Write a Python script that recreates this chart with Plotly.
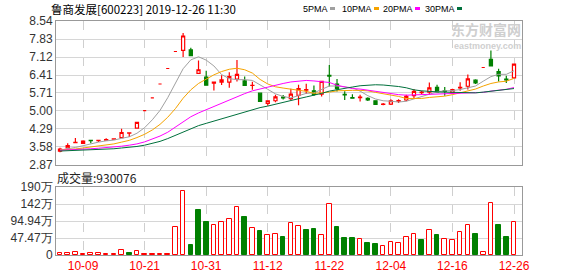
import plotly.graph_objects as go

# ---------------- data ----------------
dates = ["09-27", "09-30", "10-08", "10-09", "10-10", "10-11", "10-14", "10-15", "10-16", "10-17",
         "10-18", "10-21", "10-22", "10-23", "10-24", "10-25", "10-28", "10-29", "10-30", "10-31",
         "11-01", "11-04", "11-05", "11-06", "11-07", "11-08", "11-11", "11-12", "11-13", "11-14",
         "11-15", "11-18", "11-19", "11-20", "11-21", "11-22", "11-25", "11-26", "11-27", "11-28",
         "11-29", "12-02", "12-03", "12-04", "12-05", "12-06", "12-09", "12-10", "12-11", "12-12",
         "12-13", "12-16", "12-17", "12-18", "12-19", "12-20", "12-23", "12-24", "12-25", "12-26"]

open_ = [3.42, 3.54, 3.75, 3.72, 3.84, 3.83, 3.85, 3.89, 3.95, 4.12,
         4.32, 5.01, 5.51, 6.06, 6.67, 7.34, 7.38, 7.40, 6.48, 6.33,
         6.09, 6.13, 6.13, 6.25, 6.18, 6.00, 5.70, 5.30, 5.40, 5.54,
         5.48, 5.61, 5.82, 5.79, 5.66, 6.40, 6.06, 5.65, 5.52, 5.52,
         5.49, 5.40, 5.26, 5.27, 5.38, 5.43, 5.60, 5.72, 5.74, 5.93,
         5.79, 5.71, 5.91, 5.97, 6.21, 6.71, 7.03, 6.55, 6.25, 6.30]
high = [3.55, 3.73, 3.93, 3.84, 3.84, 3.85, 3.92, 3.91, 4.30, 4.15,
        4.55, 5.01, 5.51, 6.06, 6.67, 7.34, 8.07, 7.49, 6.98, 6.58,
        6.14, 6.40, 6.52, 7.00, 6.35, 6.15, 5.71, 5.42, 5.64, 5.63,
        5.87, 6.03, 6.07, 6.00, 6.17, 6.81, 6.26, 5.77, 5.66, 5.64,
        5.54, 5.41, 5.31, 5.46, 5.46, 5.64, 5.86, 5.79, 6.12, 6.03,
        5.94, 5.87, 6.13, 6.43, 6.25, 6.71, 7.38, 6.66, 6.38, 6.86]
low = [3.37, 3.53, 3.73, 3.71, 3.73, 3.78, 3.84, 3.88, 3.94, 3.97,
       4.30, 5.01, 5.51, 6.06, 6.67, 7.34, 7.12, 7.16, 6.47, 5.99,
       5.80, 6.02, 5.91, 6.16, 5.98, 5.83, 5.36, 5.20, 5.34, 5.45,
       5.43, 5.22, 5.67, 5.59, 5.57, 5.96, 5.76, 5.43, 5.48, 5.37,
       5.39, 5.25, 5.22, 5.23, 5.31, 5.38, 5.49, 5.66, 5.64, 5.74,
       5.60, 5.70, 5.79, 5.84, 6.06, 6.71, 6.76, 6.16, 6.10, 6.28]
close = [3.50, 3.63, 3.76, 3.81, 3.83, 3.84, 3.87, 3.90, 4.15, 4.14,
         4.55, 5.01, 5.51, 6.06, 6.67, 7.34, 7.95, 7.18, 6.62, 6.01,
         6.13, 6.22, 6.35, 6.44, 6.00, 6.01, 5.37, 5.40, 5.55, 5.51,
         5.66, 5.88, 5.84, 5.65, 6.16, 6.37, 5.88, 5.63, 5.50, 5.54,
         5.43, 5.26, 5.27, 5.40, 5.41, 5.57, 5.77, 5.74, 5.91, 5.75,
         5.77, 5.84, 5.93, 6.26, 6.10, 6.71, 6.77, 6.38, 6.22, 6.84]

ma5 = [3.46, 3.50, 3.56, 3.63, 3.71, 3.77, 3.82, 3.85, 3.92, 3.98,
       4.12, 4.34, 4.65, 5.02, 5.52, 6.07, 6.66, 7.01, 7.13, 7.00,
       6.77, 6.43, 6.27, 6.23, 6.23, 6.20, 6.04, 5.85, 5.67, 5.57,
       5.51, 5.60, 5.69, 5.71, 5.84, 5.98, 5.98, 5.94, 5.91, 5.78,
       5.60, 5.47, 5.40, 5.38, 5.35, 5.38, 5.48, 5.58, 5.68, 5.75,
       5.79, 5.80, 5.84, 5.91, 5.98, 6.17, 6.35, 6.44, 6.44, 6.58]
ma10 = [3.46, 3.47, 3.50, 3.54, 3.58, 3.62, 3.66, 3.70, 3.77, 3.84,
        3.95, 4.08, 4.25, 4.47, 4.75, 5.09, 5.50, 5.83, 6.08, 6.26,
        6.42, 6.55, 6.64, 6.68, 6.62, 6.49, 6.24, 6.06, 5.95, 5.90,
        5.85, 5.82, 5.77, 5.69, 5.71, 5.74, 5.79, 5.81, 5.81, 5.81,
        5.79, 5.73, 5.67, 5.64, 5.57, 5.49, 5.48, 5.49, 5.53, 5.55,
        5.58, 5.64, 5.71, 5.79, 5.86, 5.98, 6.08, 6.14, 6.17, 6.28]
ma20 = [3.45, 3.46, 3.48, 3.50, 3.51, 3.53, 3.55, 3.58, 3.61, 3.65,
        3.70, 3.78, 3.88, 4.01, 4.16, 4.36, 4.58, 4.77, 4.92, 5.05,
        5.18, 5.31, 5.44, 5.57, 5.68, 5.79, 5.87, 5.94, 6.01, 6.08,
        6.14, 6.18, 6.20, 6.18, 6.16, 6.12, 6.01, 5.94, 5.88, 5.86,
        5.82, 5.77, 5.72, 5.67, 5.64, 5.62, 5.63, 5.65, 5.67, 5.68,
        5.69, 5.68, 5.69, 5.72, 5.72, 5.73, 5.78, 5.82, 5.85, 5.92]
ma30 = [3.42, 3.43, 3.44, 3.45, 3.47, 3.48, 3.50, 3.51, 3.54, 3.56,
        3.60, 3.65, 3.72, 3.80, 3.91, 4.04, 4.19, 4.32, 4.42, 4.51,
        4.60, 4.69, 4.79, 4.89, 4.98, 5.06, 5.13, 5.19, 5.27, 5.34,
        5.41, 5.48, 5.55, 5.61, 5.69, 5.78, 5.84, 5.90, 5.94, 5.99,
        6.02, 6.03, 6.02, 6.00, 5.96, 5.91, 5.83, 5.79, 5.76, 5.75,
        5.74, 5.73, 5.72, 5.71, 5.71, 5.74, 5.78, 5.81, 5.84, 5.88]

# volume in 万 shares
volume_wan = [5.6, 5.6, 7.4, 3.7, 4.6, 4.6, 2.8, 2.8, 13.0, 5.6,
              10.2, 2.8, 2.8, 2.8, 2.8, 77.8, 177.8, 27.8, 125.0, 91.7,
              83.4, 93.5, 100.0, 135.2, 105.6, 74.1, 66.7, 54.6, 60.0, 50.0,
              88.0, 79.7, 69.5, 72.2, 54.6, 143.6, 77.8, 47.2, 47.2, 43.5,
              33.3, 29.6, 25.0, 35.2, 32.4, 50.0, 57.4, 41.7, 68.5, 55.6,
              44.5, 40.8, 63.0, 82.4, 58.4, 7.4, 146.3, 83.4, 50.9, 93.0076]

price_ticks = [2.87, 3.58, 4.29, 5.00, 5.71, 6.41, 7.12, 7.83, 8.54]
vol_ticks = [0, 474700, 949400, 1424100, 1898800]
vol_ticktext = ["0", "47.47万", "94.94万", "142万", "190万"]
date_ticks = ["10-09", "10-21", "10-31", "11-12", "11-22", "12-04", "12-16", "12-26"]

title_text = "鲁商发展[600223] 2019-12-26 11:30"
volume_label = "成交量:930076"
ma_names = ["5PMA", "10PMA", "20PMA", "30PMA"]

# ---------------- styles ----------------
RED = "#ff0000"
GREEN = "#008000"
MA_COLORS = ["#a0a0a0", "#f5a300", "#ff00ff", "#00703c"]
FONT = "Liberation Sans, Arial, sans-serif"
CJK = "Noto Sans CJK SC, Liberation Sans, sans-serif"
W, H = 578, 276

def px_x(p):
    return p / W

def px_y(p):
    return 1 - p / H

volume = [v * 10000 for v in volume_wan]
up = []
for i in range(len(close)):
    ref = close[i - 1] if i > 0 else open_[i]
    up.append(close[i] >= ref)
bar_fill = ["white" if u else GREEN for u in up]
bar_line = [RED if u else GREEN for u in up]

fig = go.Figure()

fig.add_trace(go.Candlestick(
    x=dates, open=open_, high=high, low=low, close=close,
    increasing=dict(line=dict(color=RED, width=1.2), fillcolor="white"),
    decreasing=dict(line=dict(color=GREEN, width=1.2), fillcolor=GREEN),
    whiskerwidth=0, showlegend=False, xaxis="x", yaxis="y"))

for vals, col in zip([ma5, ma10, ma20, ma30], MA_COLORS):
    fig.add_trace(go.Scatter(x=dates, y=vals, mode="lines",
                             line=dict(color=col, width=1),
                             showlegend=False, xaxis="x", yaxis="y"))

fig.add_trace(go.Bar(x=dates, y=volume, width=0.6,
                     marker=dict(color=bar_fill, line=dict(color=bar_line, width=1)),
                     showlegend=False, xaxis="x2", yaxis="y2"))

xdom = [px_x(56), px_x(522)]
common_x = dict(type="category", categoryorder="array", categoryarray=dates,
                range=[-0.52, 60.04], domain=xdom, tickvals=date_ticks, ticktext=date_ticks,
                showgrid=True, gridcolor="#cfcfcf", griddash="dash", gridwidth=1,
                showline=True, mirror=True, linecolor="#999999", linewidth=1,
                ticks="", fixedrange=True, automargin=False)

fig.update_layout(
    width=W, height=H, margin=dict(l=0, r=0, t=0, b=0),
    paper_bgcolor="white", plot_bgcolor="white",
    boxgap=0.42, bargap=0,
    xaxis=dict(common_x, anchor="y", showticklabels=False, rangeslider=dict(visible=False)),
    xaxis2=dict(common_x, anchor="y2", showticklabels=True,
                tickfont=dict(family=FONT, size=12, color=RED)),
    yaxis=dict(domain=[px_y(165), px_y(21)], range=[2.87, 8.54], tickvals=price_ticks,
               ticktext=["%.2f" % v for v in price_ticks],
               tickfont=dict(family=FONT, size=12, color="#333333"),
               showgrid=True, gridcolor="#d6d6d6", zeroline=False,
               showline=True, mirror=True, linecolor="#999999", linewidth=1,
               ticks="", automargin=False, fixedrange=True),
    yaxis2=dict(domain=[px_y(255), px_y(187)], range=[0, 1898800], tickvals=vol_ticks,
                ticktext=vol_ticktext,
                tickfont=dict(family=FONT, size=12, color="#333333"),
                showgrid=True, gridcolor="#d6d6d6", zeroline=False,
                showline=True, mirror=True, linecolor="#999999", linewidth=1,
                ticks="", automargin=False, fixedrange=True),
)

ann = []
ann.append(dict(text=title_text, x=px_x(49), y=px_y(9), xref="paper", yref="paper",
                xanchor="left", yanchor="middle", showarrow=False,
                font=dict(family=CJK, size=11.5, color="#000000")))
ann.append(dict(text=volume_label, x=px_x(55), y=px_y(177), xref="paper", yref="paper",
                xanchor="left", yanchor="middle", showarrow=False,
                font=dict(family=CJK, size=12, color="#222222")))

marker_left = [330, 374, 415, 457]
shapes = []
for name, col, mx in zip(ma_names, MA_COLORS, marker_left):
    ann.append(dict(text=name, x=px_x(mx - 1), y=px_y(9), xref="paper", yref="paper",
                    xanchor="right", yanchor="middle", showarrow=False, borderpad=0,
                    font=dict(family=FONT, size=9, color="#000000")))
    shapes.append(dict(type="rect", xref="paper", yref="paper",
                       x0=px_x(mx), x1=px_x(mx + 5), y0=px_y(10), y1=px_y(7),
                       fillcolor=col, line=dict(width=0)))

# watermark
ann.append(dict(text="<b>东方财富网</b>", x=px_x(522), y=px_y(29), xref="paper", yref="paper",
                xanchor="right", yanchor="middle", showarrow=False, borderpad=0,
                font=dict(family=CJK, size=14, color="#cfcfcf")))
ann.append(dict(text="<b>eastmoney.com</b>", x=px_x(522), y=px_y(46), xref="paper", yref="paper",
                xanchor="right", yanchor="middle", showarrow=False, borderpad=0,
                font=dict(family=FONT, size=9, color="#cfcfcf")))

fig.update_layout(annotations=ann, shapes=shapes)
fig.write_html("out.html")
